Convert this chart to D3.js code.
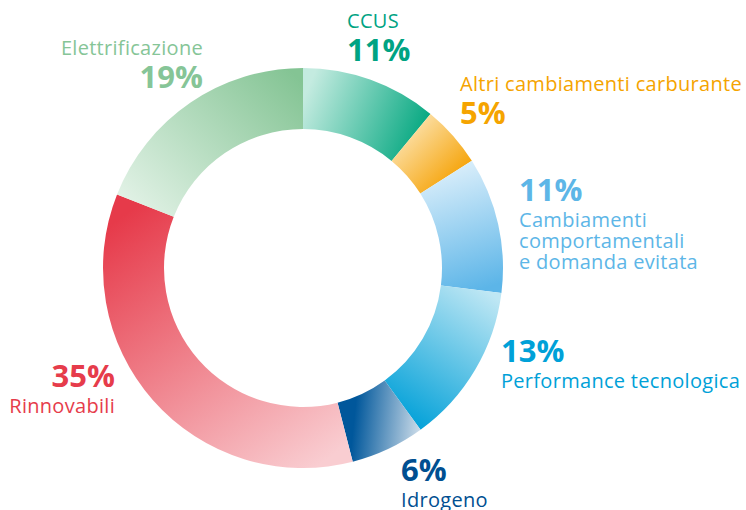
<!DOCTYPE html>
<html>
<head>
<meta charset="utf-8">
<script src="https://cdn.jsdelivr.net/npm/d3@7"></script>
<style>
  html, body { margin: 0; padding: 0; background: #fff; }
  svg text { font-family: "Open Sans", "Noto Sans", sans-serif; }
</style>
</head>
<body>
<svg id="chart"></svg>
<script>
const categories = [
    "CCUS",
    "Altri cambiamenti carburante",
    "Cambiamenti comportamentali e domanda evitata",
    "Performance tecnologica",
    "Idrogeno",
    "Rinnovabili",
    "Elettrificazione",
];
const values = [11, 5, 11, 13, 6, 35, 19];
const percentLabels = ["11%", "5%", "11%", "13%", "6%", "35%", "19%"];

const width = 746,
    height = 510;
const cx = 303,
    cy = 268,
    outerR = 200,
    innerR = 139;

// per segment: text colour, gradient stops, gradient direction
const palette = [
    { text: "#00a383", stops: [["0", "#c4ebe0"], ["1", "#00a67e"]], dir: [0, 0.35, 1, 0.65] },
    { text: "#f5a400", stops: [["0", "#fde9bf"], ["1", "#f5a000"]], dir: [0.1, 0.1, 0.85, 0.85] },
    { text: "#5db6e7", stops: [["0", "#def0fb"], ["1", "#5cb5e8"]], dir: [0.4, 0, 0.6, 1] },
    { text: "#00a1d8", stops: [["0", "#bfe7f4"], ["1", "#00a0d8"]], dir: [0.8, 0, 0.25, 1] },
    { text: "#004f91", stops: [["0", "#00579b"], ["0.2", "#00579b"], ["1", "#ccdce9"]], dir: [0, 0.45, 1, 0.55] },
    { text: "#e63c4b", stops: [["0", "#e63a4a"], ["1", "#f9cdd1"]], dir: [0.2, 0, 0.85, 1] },
    { text: "#86c597", stops: [["0", "#e4f3e8"], ["1", "#84c494"]], dir: [0, 0.9, 1, 0.1] },
];

// label layout: x, y of percent baseline, anchor, whether name goes above or below
const labelLayout = [
    { x: 347, y: 61, anchor: "start", nameAbove: true },
    { x: 460, y: 124, anchor: "start", nameAbove: true },
    { x: 519, y: 201, anchor: "start", nameAbove: false },
    { x: 501, y: 362, anchor: "start", nameAbove: false },
    { x: 401, y: 481, anchor: "start", nameAbove: false },
    { x: 115, y: 387, anchor: "end", nameAbove: false },
    { x: 203, y: 88, anchor: "end", nameAbove: true },
];
const nameLines = [
    ["CCUS"],
    ["Altri cambiamenti carburante"],
    ["Cambiamenti", "comportamentali", "e domanda evitata"],
    ["Performance tecnologica"],
    ["Idrogeno"],
    ["Rinnovabili"],
    ["Elettrificazione"],
];

const svg = d3.select("#chart").attr("width", width).attr("height", height);
const defs = svg.append("defs");

palette.forEach((p, i) => {
    const g = defs
        .append("linearGradient")
        .attr("id", `grad-${i}`)
        .attr("x1", p.dir[0])
        .attr("y1", p.dir[1])
        .attr("x2", p.dir[2])
        .attr("y2", p.dir[3]);
    p.stops.forEach((s) => g.append("stop").attr("offset", s[0]).attr("stop-color", s[1]));
});

const pie = d3.pie().sort(null).value((d) => d);
const arc = d3.arc().innerRadius(innerR).outerRadius(outerR);

const chart = svg.append("g").attr("transform", `translate(${cx}, ${cy})`);

chart
    .selectAll("path")
    .data(pie(values))
    .enter()
    .append("path")
    .attr("d", arc)
    .attr("fill", (d, i) => `url(#grad-${i})`);

const labels = svg
    .selectAll("g.label")
    .data(categories)
    .enter()
    .append("g")
    .attr("class", "label");

labels.each(function (c, i) {
    const g = d3.select(this);
    const l = labelLayout[i];
    const col = palette[i].text;
    g.append("text")
        .attr("x", l.x)
        .attr("y", l.y)
        .attr("text-anchor", l.anchor)
        .attr("fill", col)
        .attr("font-size", 31)
        .attr("font-weight", 700)
        .text(percentLabels[i]);
    const lines = nameLines[i];
    lines.forEach((line, j) => {
        const y = l.nameAbove ? l.y - 33 : l.y + 26 + j * 21;
        g.append("text")
            .attr("x", l.x)
            .attr("y", y)
            .attr("text-anchor", l.anchor)
            .attr("fill", col)
            .attr("font-size", 20)
            .attr("letter-spacing", 0.3)
            .text(line);
    });
});
</script>
</body>
</html>
